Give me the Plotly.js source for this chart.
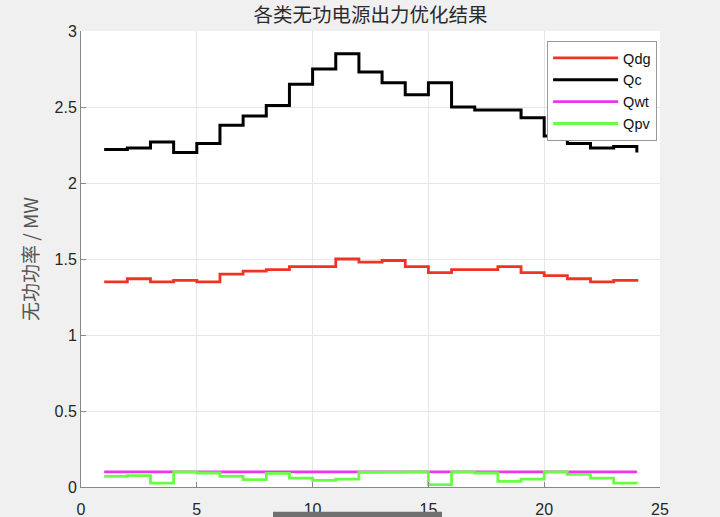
<!DOCTYPE html>
<html>
<head>
<meta charset="utf-8">
<script src="https://cdn.plot.ly/plotly-3.0.1.min.js"></script>
<style>html,body{margin:0;padding:0;background:#f0f0f0;}#chart{width:720px;height:517px;}</style>
</head>
<body>
<div id="chart"></div>
<script>
const hours = [1,2,3,4,5,6,7,8,9,10,11,12,13,14,15,16,17,18,19,20,21,22,23,24];
const Qdg = [1.35,1.37,1.35,1.36,1.35,1.40,1.42,1.43,1.45,1.45,1.50,1.48,1.49,1.45,1.41,1.43,1.43,1.45,1.41,1.39,1.37,1.35,1.36,1.35];
const Qc  = [2.22,2.23,2.27,2.20,2.26,2.38,2.44,2.51,2.65,2.75,2.85,2.73,2.66,2.58,2.66,2.50,2.48,2.48,2.43,2.31,2.26,2.23,2.24,2.20];
const Qwt = [0.1,0.1,0.1,0.1,0.1,0.1,0.1,0.1,0.1,0.1,0.1,0.1,0.1,0.1,0.1,0.1,0.1,0.1,0.1,0.1,0.1,0.1,0.1,0.1];
const Qpv = [0.07,0.075,0.026,0.1,0.092,0.07,0.048,0.09,0.059,0.044,0.052,0.097,0.098,0.1,0.015,0.1,0.092,0.037,0.052,0.1,0.083,0.059,0.026,0.024];
const names = ['Qdg','Qc','Qwt','Qpv'];
const colors = ['#f03322','#000000','#ee33ee','#66ff44'];
const widths = [2.8,3,2.8,2.8];
const series = [Qdg,Qc,Qwt,Qpv];

const traces = series.map((s,i)=>({
  x: hours, y: s, name: names[i], type:'scatter', mode:'lines',
  line:{shape:'hv', color:colors[i], width:widths[i]}
}));

const axisCommon = {
  showline:true, linecolor:'#888', linewidth:1,
  ticks:'inside', ticklen:5, tickcolor:'#888',
  showgrid:true, gridcolor:'#e6e6e6', gridwidth:1,
  zeroline:false, tickfont:{family:'Liberation Sans, Arial, sans-serif', size:16, color:'#262626'},
  mirror:false
};

const layout = {
  width:720, height:517,
  paper_bgcolor:'#f0f0f0', plot_bgcolor:'#ffffff',
  margin:{l:81, r:60, t:31, b:30},
  title:{text:'各类无功电源出力优化结果', x:0.5, xref:'paper', y:0.971, yanchor:'middle',
    font:{family:'Noto Sans CJK SC, sans-serif', size:19.5, color:'#2b2b2b'}},
  xaxis: Object.assign({}, axisCommon, {range:[0,25], tickvals:[0,5,10,15,20,25], ticktext:['0','5','10','15','20','25'], ticklabelstandoff:8}),
  yaxis: Object.assign({}, axisCommon, {range:[0,3], tickvals:[0,0.5,1,1.5,2,2.5,3], ticktext:['0','0.5','1','1.5','2','2.5','3'],
    title:{text:'无功功率 / MW', standoff:10, font:{family:'Noto Sans CJK SC, sans-serif', size:19, color:'#555'}}}),
  showlegend:true,
  legend:{x:0.995, xanchor:'right', y:0.978, yanchor:'top', bgcolor:'#ffffff', bordercolor:'#999', borderwidth:1,
    font:{family:'Liberation Sans, Arial, sans-serif', size:14.5, color:'#111'}, itemwidth:65, tracegroupgap:0},
  shapes:[{type:'rect', xref:'paper', yref:'paper', x0:(273-81)/579, x1:(442-81)/579, y0:-(512-487.3)/456.3, y1:-(520-487.3)/456.3,
    fillcolor:'#707070', line:{width:0}, layer:'above'}]
};

Plotly.newPlot('chart', traces, layout, {staticPlot:true, displayModeBar:false});
</script>
</body>
</html>
